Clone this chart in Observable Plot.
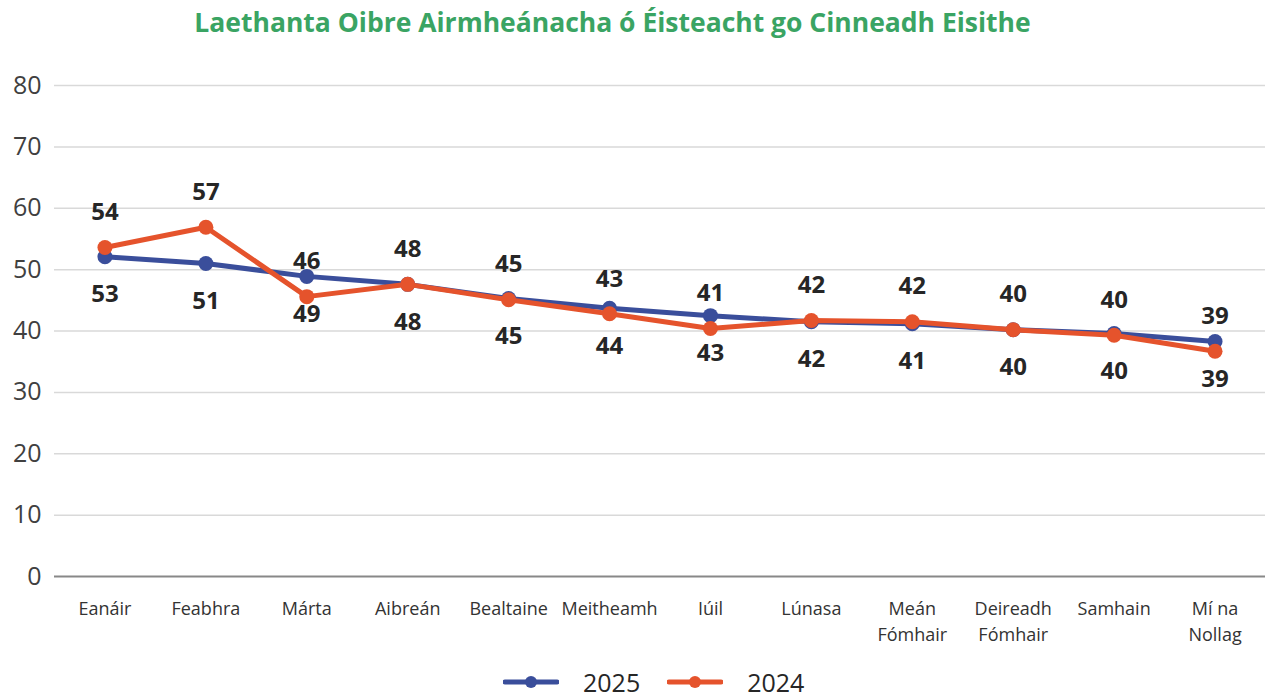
<!DOCTYPE html>
<html>
<head>
<meta charset="utf-8">
<script src="https://cdn.jsdelivr.net/npm/d3@7"></script>
<script src="https://cdn.jsdelivr.net/npm/@observablehq/plot@0.6"></script>
<style>
  html, body { margin: 0; padding: 0; background: #fff; }
  body { width: 1287px; height: 697px; position: relative; overflow: hidden; font-family: "Open Sans", sans-serif; }
  #title { height: 55px; box-sizing: border-box; padding-top: 4px; padding-right: 62px; text-align: center;
           font-size: 26.5px; font-weight: 700; color: #3aa463; line-height: normal; white-space: nowrap; }
  #chart svg { display: block; }
  #legend { position: absolute; top: 666px; left: 503px; display: flex; align-items: center; height: 32px;
            font-size: 25px; color: #262626; }
  #legend .sw { display: block; }
</style>
</head>
<body>
<div id="title">Laethanta Oibre Airmheánacha ó Éisteacht go Cinneadh Eisithe</div>
<div id="chart"></div>
<div id="legend"></div>
<script>
const months = ["Eanáir","Feabhra","Márta","Aibreán","Bealtaine","Meitheamh","Iúil","Lúnasa","Meán Fómhair","Deireadh Fómhair","Samhain","Mí na Nollag"];
const monthTickLabels = ["Eanáir","Feabhra","Márta","Aibreán","Bealtaine","Meitheamh","Iúil","Lúnasa","Meán\nFómhair","Deireadh\nFómhair","Samhain","Mí na\nNollag"];
const values2025 = [52.1, 51.0, 48.9, 47.6, 45.3, 43.7, 42.5, 41.5, 41.2, 40.2, 39.6, 38.3];
const values2024 = [53.6, 56.9, 45.6, 47.6, 45.1, 42.8, 40.4, 41.7, 41.5, 40.2, 39.3, 36.7];
const labels2025 = [53, 51, 49, 48, 45, 44, 43, 42, 41, 40, 40, 39];
const labels2024 = [54, 57, 46, 48, 45, 43, 41, 42, 42, 40, 40, 39];
const seriesNames = ["2025", "2024"];
const seriesColors = ["#3a4e9b", "#e5532c"];
const yTicks = [0, 10, 20, 30, 40, 50, 60, 70, 80];

const rows2025 = months.map((m, i) => ({month: m, value: values2025[i], label: labels2025[i]}));
const rows2024 = months.map((m, i) => ({month: m, value: values2024[i], label: labels2024[i]}));
const tickMap = new Map(months.map((m, i) => [m, monthTickLabels[i]]));

const chart = Plot.plot({
  width: 1287,
  height: 600,
  marginTop: 30,
  marginBottom: 79,
  marginLeft: 54,
  marginRight: 22,
  style: {fontFamily: "'Open Sans', sans-serif", color: "#404040", background: "#fff"},
  x: {type: "point", domain: months, padding: 0.5, round: false, label: null},
  y: {domain: [0, 80], label: null},
  marks: [
    Plot.gridY(yTicks.filter(d => d > 0), {stroke: "#d9d9d9", strokeOpacity: 1, strokeWidth: 1.5}),
    Plot.ruleY([0], {stroke: "#888888", strokeWidth: 2}),
    Plot.axisY({ticks: yTicks, tickSize: 0, tickPadding: 13, fontSize: 25, fill: "#404040", label: null}),
    Plot.axisX({tickSize: 0, tickPadding: 20, fontSize: 18, lineHeight: 1.45, fill: "#333333", label: null,
                tickFormat: d => tickMap.get(d)}),
    Plot.line(rows2025, {x: "month", y: "value", stroke: seriesColors[0], strokeWidth: 5}),
    Plot.dot(rows2025, {x: "month", y: "value", r: 7.5, fill: seriesColors[0]}),
    Plot.line(rows2024, {x: "month", y: "value", stroke: seriesColors[1], strokeWidth: 5}),
    Plot.dot(rows2024, {x: "month", y: "value", r: 7.5, fill: seriesColors[1]}),
    Plot.text(rows2024, {x: "month", y: "value", text: d => String(d.label), dy: -35,
                         fontSize: 24, fontWeight: 700, fill: "#262626"}),
    Plot.text(rows2025, {x: "month", y: "value", text: d => String(d.label), dy: 38,
                         fontSize: 24, fontWeight: 700, fill: "#262626"})
  ]
});
document.getElementById("chart").append(chart);

// legend
const legend = document.getElementById("legend");
seriesNames.forEach((name, i) => {
  const sw = document.createElementNS("http://www.w3.org/2000/svg", "svg");
  sw.setAttribute("width", "56");
  sw.setAttribute("height", "16");
  sw.setAttribute("class", "sw");
  sw.innerHTML = `<line x1="2" x2="54" y1="8" y2="8" stroke="${seriesColors[i]}" stroke-width="5" stroke-linecap="round"/>` +
                 `<circle cx="28" cy="8" r="6" fill="${seriesColors[i]}"/>`;
  sw.style.marginLeft = i === 0 ? "0px" : "27px";
  const t = document.createElement("span");
  t.textContent = name;
  t.style.marginLeft = "24px";
  legend.append(sw, t);
});
</script>
</body>
</html>
